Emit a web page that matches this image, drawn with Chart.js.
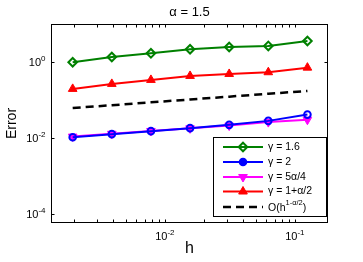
<!DOCTYPE html>
<html><head><meta charset="utf-8">
<script src="https://cdn.jsdelivr.net/npm/chart.js@4/dist/chart.umd.min.js"></script>
<style>html,body{margin:0;padding:0;background:#fff}#wrap{width:363px;height:262px;position:relative}</style>
</head><body><div id="wrap"><canvas id="c" width="363" height="262"></canvas></div>
<script>
const h = [1/512, 1/256, 1/128, 1/64, 1/32, 1/16, 1/8];
const errGamma16 = [0.98, 1.35, 1.69, 2.16, 2.48, 2.64, 3.57];
const errGamma2 = [0.0104, 0.0125, 0.0150, 0.0180, 0.0220, 0.0280, 0.0410];
const errGamma5a4 = [0.0108, 0.0128, 0.0152, 0.0178, 0.0210, 0.0260, 0.0300];
const errGamma1a2 = [0.195, 0.264, 0.336, 0.428, 0.483, 0.536, 0.708];
const refOrder = [0.061, 0.0725, 0.0862, 0.1025, 0.1219, 0.145, 0.1724];
const xTicks = [0.01, 0.1];
const yTicks = [1, 0.01, 0.0001];
const seriesLabels = ['γ = 1.6', 'γ = 2', 'γ = 5α/4', 'γ = 1+α/2', 'O(h'];
const titleText = 'α = 1.5';
const xTitle = 'h';
const yTitle = 'Error';

const FONT = '"Liberation Sans", Arial, Helvetica, sans-serif';
const pts = arr => h.map((x, i) => ({x: x, y: arr[i]}));

const datasets = [
  {label: seriesLabels[0], data: pts(errGamma16), borderColor: '#008000', backgroundColor: 'rgba(0,0,0,0)',
   borderWidth: 2, pointStyle: 'rectRot', pointRadius: 4.3, pointBorderWidth: 2, pointBorderColor: '#008000', pointBackgroundColor: 'rgba(0,0,0,0)', order: 5},
  {label: seriesLabels[1], data: pts(errGamma2), borderColor: '#0000ff', backgroundColor: 'rgba(0,0,0,0)',
   borderWidth: 2, pointStyle: 'circle', pointRadius: 3.3, pointBorderWidth: 2, pointBorderColor: '#0000ff', pointBackgroundColor: 'rgba(0,0,0,0)', order: 3},
  {label: seriesLabels[2], data: pts(errGamma5a4), borderColor: '#ff00ff', backgroundColor: 'rgba(0,0,0,0)',
   borderWidth: 2, pointStyle: 'triangle', pointRotation: 180, pointRadius: 5, pointBorderWidth: 1, pointBorderColor: '#ff00ff', pointBackgroundColor: '#ff00ff', order: 4},
  {label: seriesLabels[3], data: pts(errGamma1a2), borderColor: '#ff0000', backgroundColor: 'rgba(0,0,0,0)',
   borderWidth: 2, pointStyle: 'triangle', pointRadius: 5, pointBorderWidth: 1, pointBorderColor: '#ff0000', pointBackgroundColor: '#ff0000', order: 2},
  {label: seriesLabels[4], data: pts(refOrder), borderColor: '#000000', backgroundColor: 'rgba(0,0,0,0)',
   borderWidth: 2.5, borderDash: [8, 5], pointRadius: 0, order: 1}
];

function sup(ctx, base, exp, x, y, align, size) {
  ctx.font = size + 'px ' + FONT;
  const wb = ctx.measureText(base).width;
  ctx.font = Math.round(size * 0.72) + 'px ' + FONT;
  const we = ctx.measureText(exp).width;
  let x0 = x;
  if (align === 'right') x0 = x - wb - we;
  else if (align === 'center') x0 = x - (wb + we) / 2;
  ctx.textAlign = 'left';
  ctx.textBaseline = 'alphabetic';
  ctx.font = size + 'px ' + FONT;
  ctx.fillText(base, x0, y);
  ctx.font = Math.round(size * 0.72) + 'px ' + FONT;
  ctx.fillText(exp, x0 + wb, y - size * 0.45);
}
function expStr(v) { const e = Math.round(Math.log10(v)); return e < 0 ? '-' + (-e) : String(e); }

const deco = {
  id: 'deco',
  afterDraw(chart) {
    const ctx = chart.ctx, a = chart.chartArea, xs = chart.scales.x, ys = chart.scales.y;
    ctx.save();
    ctx.fillStyle = '#000';
    ctx.strokeStyle = '#000';
    ctx.lineWidth = 1;
    const L = Math.round(a.left) + 0.5, R = Math.round(a.right) - 0.5, T = Math.round(a.top) + 0.5, B = Math.round(a.bottom) - 0.5;
    ctx.strokeRect(L, T, R - L, B - T);
    const tl = 3;
    ctx.beginPath();
    for (let d = -3; d <= 0; d++) {
      for (let m = 1; m <= 9; m++) {
        const v = m * Math.pow(10, d);
        if (v < xs.min || v > xs.max) continue;
        const px = Math.round(xs.getPixelForValue(v)) + 0.5;
        ctx.moveTo(px, B); ctx.lineTo(px, B - tl);
        ctx.moveTo(px, T); ctx.lineTo(px, T + tl);
      }
    }
    yTicks.forEach(v => {
      const py = Math.round(ys.getPixelForValue(v)) + 0.5;
      ctx.moveTo(L, py); ctx.lineTo(L + tl, py);
      ctx.moveTo(R, py); ctx.lineTo(R - tl, py);
    });
    ctx.stroke();
    xTicks.forEach(v => { sup(ctx, '10', expStr(v), xs.getPixelForValue(v), B + 17, 'center', 11); });
    yTicks.forEach(v => { sup(ctx, '10', expStr(v), L - 6, ys.getPixelForValue(v) + 4, 'right', 11); });
    ctx.textAlign = 'center'; ctx.textBaseline = 'middle';
    ctx.font = '13px ' + FONT;
    ctx.fillText(titleText, (a.left + a.right) / 2, 12);
    ctx.font = '16px ' + FONT;
    ctx.fillText(xTitle, (a.left + a.right) / 2, 249);
    ctx.save();
    ctx.translate(12, (a.top + a.bottom) / 2);
    ctx.rotate(-Math.PI / 2);
    ctx.font = '14px ' + FONT;
    ctx.fillText(yTitle, 0, 0);
    ctx.restore();
    const bx = 213.5, by = 137.5, bw = 113, bh = 79;
    ctx.fillStyle = '#fff';
    ctx.fillRect(bx, by, bw, bh);
    ctx.strokeStyle = '#000'; ctx.lineWidth = 1;
    ctx.strokeRect(bx, by, bw, bh);
    const rows = [147, 162, 177, 191.5, 207];
    chart.data.datasets.forEach((ds, i) => {
      const y = rows[i];
      ctx.save();
      ctx.strokeStyle = ds.borderColor;
      ctx.lineWidth = ds.borderWidth;
      ctx.setLineDash(ds.borderDash || []);
      ctx.beginPath(); ctx.moveTo(223, y); ctx.lineTo(263, y); ctx.stroke();
      ctx.setLineDash([]);
      if (ds.pointRadius > 0) {
        ctx.strokeStyle = ds.pointBorderColor;
        ctx.fillStyle = (i === 1) ? ds.pointBorderColor : ds.pointBackgroundColor;
        ctx.lineWidth = ds.pointBorderWidth;
        Chart.helpers.drawPoint(ctx, {pointStyle: ds.pointStyle, radius: ds.pointRadius, rotation: ds.pointRotation || 0, borderWidth: ds.pointBorderWidth}, 243, y);
      }
      ctx.restore();
      ctx.fillStyle = '#000';
      ctx.textAlign = 'left'; ctx.textBaseline = 'middle';
      ctx.font = '10.5px ' + FONT;
      if (i < 4) {
        ctx.fillText(ds.label, 268, y);
      } else {
        const w1 = ctx.measureText(ds.label).width;
        ctx.fillText(ds.label, 268, y + 1);
        ctx.font = '7.5px ' + FONT;
        const s = '1-α/2';
        const w2 = ctx.measureText(s).width;
        ctx.fillText(s, 268 + w1, y - 4);
        ctx.font = '10.5px ' + FONT;
        ctx.fillText(')', 268 + w1 + w2, y + 1);
      }
    });
    ctx.restore();
  }
};

new Chart(document.getElementById('c'), {
  type: 'line',
  data: {datasets: datasets},
  options: {
    responsive: false, animation: false, devicePixelRatio: 1,
    layout: {padding: {left: 51, right: 35, top: 24, bottom: 39}},
    plugins: {legend: {display: false}, title: {display: false}, tooltip: {enabled: false}},
    scales: {
      x: {type: 'logarithmic', min: 0.00133, max: 0.18,
          grid: {display: false, drawTicks: false}, border: {display: false}, ticks: {display: false}},
      y: {type: 'logarithmic', min: 5.7e-5, max: 10,
          grid: {display: false, drawTicks: false}, border: {display: false}, ticks: {display: false}}
    }
  },
  plugins: [deco]
});
</script></body></html>
